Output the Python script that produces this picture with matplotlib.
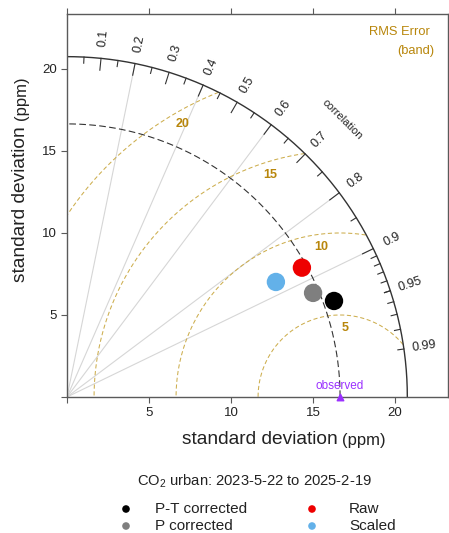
import numpy as np
import matplotlib
matplotlib.use("Agg")
import matplotlib.pyplot as plt

plt.rcParams['font.family'] = ['Liberation Sans', 'DejaVu Sans']
plt.rcParams['mathtext.fontset'] = 'custom'
plt.rcParams['mathtext.rm'] = 'Liberation Sans'
plt.rcParams['mathtext.it'] = 'Liberation Sans'
plt.rcParams['mathtext.default'] = 'regular'

# ---- data ----
obs_sd = 16.65
model_names = ["P-T corrected", "P corrected", "Raw", "Scaled"]
model_sd = [17.30, 16.29, 16.35, 14.54]
model_r = [0.941, 0.921, 0.876, 0.876]
model_colors = ["#000000", "#7f7f7f", "#ee0000", "#63b1e9"]

max_sd = 20.75
rms_levels = [5, 10, 15, 20]
rms_label_angles = [86, 97, 107.5, 120]
corr_lines = [0.2, 0.4, 0.6, 0.8, 0.9]
corr_labels = [0.1, 0.2, 0.3, 0.4, 0.5, 0.6, 0.7, 0.8, 0.9, 0.95, 0.99]
axis_ticks = [0, 5, 10, 15, 20]
axis_ticklabels = ["", "5", "10", "15", "20"]

title = r"CO$_2$ urban: 2023-5-22 to 2025-2-19"

# ---- figure ----
W, H = 449, 533
fig = plt.figure(figsize=(W / 100, H / 100), dpi=100)

ax_l, ax_r, ax_t, ax_b = 67, 448, 14, 397
ax = fig.add_axes([ax_l / W, 1 - ax_b / H, (ax_r - ax_l) / W, (ax_b - ax_t) / H])
ax.set_xlim(0, 23.23)
ax.set_ylim(0, 23.35)

rms_col = "#cdae4e"
rms_txt = "#b8860b"
axis_col = "#5a5a5a"

# radial correlation lines
for c in corr_lines:
    ax.plot([0, max_sd * c], [0, max_sd * np.sqrt(1 - c ** 2)], color="#d6d6d6", lw=0.8, zorder=1)

# RMS error arcs centred on the observed point
th = np.linspace(0, np.pi, 721)
for r in rms_levels:
    x = obs_sd + r * np.cos(th)
    y = r * np.sin(th)
    keep = (x >= 0) & (np.hypot(x, y) <= max_sd)
    x = np.where(keep, x, np.nan)
    y = np.where(keep, y, np.nan)
    ax.plot(x, y, color=rms_col, lw=0.75, ls=(0, (4, 2.5)), zorder=2)

for r, a in zip(rms_levels, rms_label_angles):
    rr = r - 0.8
    ax.text(obs_sd + rr * np.cos(np.radians(a)), rr * np.sin(np.radians(a)), str(r),
            color=rms_txt, fontsize=9, fontweight="bold", ha="center", va="center", zorder=3)

# observed standard deviation arc
qa = np.linspace(0, np.pi / 2, 300)
ax.plot(obs_sd * np.cos(qa), obs_sd * np.sin(qa), color="#333333", lw=0.8,
        ls=(0, (6, 3)), zorder=2)

# outer arc with correlation ticks
ax.plot(max_sd * np.cos(qa), max_sd * np.sin(qa), color="#333333", lw=1.0, zorder=2)

def tick_seg(cvals, frac):
    for c in cvals:
        a = np.arccos(c)
        ax.plot([max_sd * np.cos(a), frac * max_sd * np.cos(a)],
                [max_sd * np.sin(a), frac * max_sd * np.sin(a)],
                color="#333333", lw=0.8, zorder=2)

tick_seg(np.arange(0.1, 0.91, 0.1), 0.965)
tick_seg(np.arange(0.05, 0.96, 0.1), 0.982)
tick_seg(np.arange(0.91, 0.995, 0.01), 0.982)

for c in corr_labels:
    a = np.arccos(c)
    ax.text(1.06 * max_sd * np.cos(a), 1.06 * max_sd * np.sin(a), f"{c:g}",
            rotation=np.degrees(a), rotation_mode="anchor", ha="center", va="center",
            fontsize=9, color="#222222", zorder=3)

ax.text(0.81 * max_sd, 0.815 * max_sd, "correlation", rotation=-45, rotation_mode="anchor",
        ha="center", va="center", fontsize=8, color="#222222")

# observed marker
ax.scatter([obs_sd], [0], marker="^", s=22, color="#9b30ff", clip_on=False, zorder=5)
ax.text(obs_sd, 0.68, "observed", color="#9b30ff", fontsize=8.5, ha="center", va="center", zorder=5)

# model points
mx = [s * r for s, r in zip(model_sd, model_r)]
my = [s * np.sqrt(1 - r ** 2) for s, r in zip(model_sd, model_r)]
ax.scatter(mx, my, s=175, c=model_colors, edgecolors="none", zorder=6)

# axes frame and ticks
for sp in ax.spines.values():
    sp.set_color(axis_col)
    sp.set_linewidth(1.0)
ax.set_xticks(axis_ticks)
ax.set_yticks(axis_ticks)
ax.set_xticklabels(axis_ticklabels)
ax.set_yticklabels(axis_ticklabels)
ax.tick_params(direction="out", length=4, width=0.8, color=axis_col, labelsize=9.5,
               labelcolor="#222222", top=True, right=True, pad=3)

# ---- annotations in pixel space ----
ov = fig.add_axes([0, 0, 1, 1], facecolor="none")
ov.set_xlim(0, W)
ov.set_ylim(H, 0)
ov.axis("off")

ov.text(430, 32, "RMS Error", color=rms_txt, fontsize=9.3, ha="right", va="center")
ov.text(434, 51, "(band)", color=rms_txt, fontsize=9.3, ha="right", va="center")

# axis titles
ov.text(182, 440, "standard deviation", fontsize=13.8, ha="left", va="center", color="#222222")
ov.text(342, 441, "(ppm)", fontsize=12, ha="left", va="center", color="#222222")
ov.text(21, 282, "standard deviation", fontsize=13.8, ha="center", va="bottom",
        rotation=90, color="#222222")
ov.text(21, 120, "(ppm)", fontsize=12, ha="center", va="bottom", rotation=90, color="#222222")

ov.text(137, 481, title, fontsize=10.6, ha="left", va="center", color="#222222")

# legend
leg_x = [(126, 155), (126, 155), (312, 349), (312, 349)]
leg_y = [509, 526, 509, 526]
for (dx, tx), yy, name, col in zip(leg_x, leg_y, model_names, model_colors):
    ov.scatter([dx], [yy], s=30, color=col, edgecolors="none")
    ov.text(tx, yy, name, fontsize=11, ha="left", va="center", color="#222222")

fig.savefig("out.png", dpi=100)
